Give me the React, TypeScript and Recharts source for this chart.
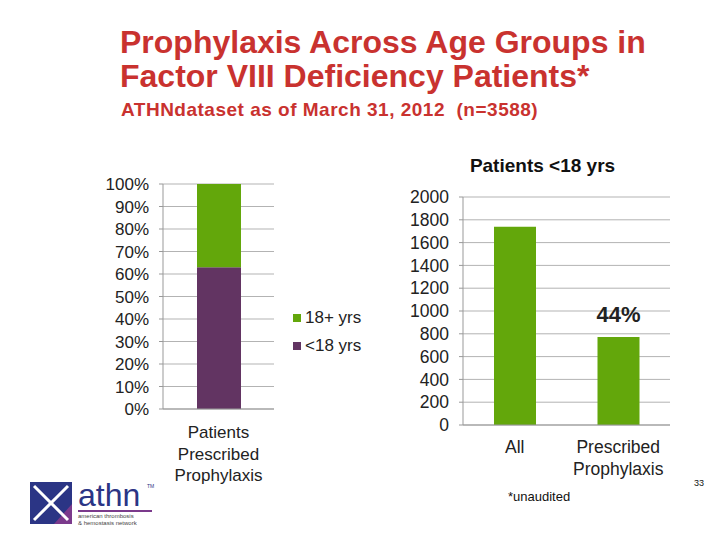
import { Bar, BarChart, CartesianGrid, LabelList, XAxis, YAxis } from "recharts";

const leftCategories = ["Patients\nPrescribed\nProphylaxis"];
const under18Share = [63];
const over18Share = [37];
const percentTicks = [0, 10, 20, 30, 40, 50, 60, 70, 80, 90, 100];

const rightCategories = ["All", "Prescribed\nProphylaxis"];
const under18Counts = [1740, 772];
const rightLabels = ["", "44%"];
const countTicks = [0, 200, 400, 600, 800, 1000, 1200, 1400, 1600, 1800, 2000];

const seriesNames = ["<18 yrs", "18+ yrs"];

const GREEN = "#63a70b";
const PURPLE = "#623462";
const GRID = "#b3b3b3";
const TITLE_RED = "#c9322f";
const FONT = "'Liberation Sans', Arial, sans-serif";

const leftData = leftCategories.map((c, i) => ({
  name: c,
  under: under18Share[i],
  over: over18Share[i],
}));

const rightData = rightCategories.map((c, i) => ({
  name: c,
  count: under18Counts[i],
  label: rightLabels[i],
}));

const MultiLineTick = (props: any) => {
  const { x, y, payload, firstDy, lineH, fontSize } = props;
  const lines = String(payload.value).split("\n");
  return (
    <text x={x} y={y} textAnchor="middle" fill="#222" fontSize={fontSize} fontFamily={FONT}>
      {lines.map((l: string, i: number) => (
        <tspan key={i} x={x} dy={i === 0 ? firstDy : lineH}>
          {l}
        </tspan>
      ))}
    </text>
  );
};

// rough athn logo, bottom left
const Logo = () => (
  <svg width={160} height={64} style={{ position: "absolute", left: 28, top: 470 }}>
    <rect x={2} y={12} width={42} height={42} fill="#2b3585" />
    <polygon points="44,54 26,54 44,34" fill="#7b3a8c" />
    <line x1={6} y1={16} x2={40} y2={50} stroke="#fff" strokeWidth={3} />
    <line x1={40} y1={16} x2={6} y2={50} stroke="#fff" strokeWidth={3} />
    <text x={50} y={36} fill="#2b3585" fontSize={32} fontFamily={FONT}>
      athn
    </text>
    <text x={119} y={18} fill="#2b3585" fontSize={5} fontFamily={FONT}>
      TM
    </text>
    <rect x={50} y={40} width={74} height={2} fill="#7b3a8c" />
    <text x={50} y={48} fill="#444" fontSize={6} fontFamily={FONT}>
      american thrombosis
    </text>
    <text x={50} y={55} fill="#444" fontSize={6} fontFamily={FONT}>
      &amp; hemostasis network
    </text>
  </svg>
);

export default function App() {
  const legendItems = [
    { name: seriesNames[1], color: GREEN },
    { name: seriesNames[0], color: PURPLE },
  ];
  return (
    <div
      style={{
        position: "relative",
        width: 720,
        height: 540,
        marginLeft: -8,
        marginTop: -8,
        background: "#fff",
        fontFamily: FONT,
        overflow: "hidden",
      }}
    >
      <div
        style={{
          position: "absolute",
          left: 120,
          top: 25,
          color: TITLE_RED,
          fontSize: 32,
          fontWeight: "bold",
          lineHeight: "34px",
          whiteSpace: "nowrap",
        }}
      >
        Prophylaxis Across Age Groups in
        <br />
        Factor VIII Deficiency Patients*
      </div>
      <div
        style={{
          position: "absolute",
          left: 121,
          top: 99,
          color: TITLE_RED,
          fontSize: 19,
          fontWeight: "bold",
          letterSpacing: 0.5,
          whiteSpace: "pre",
        }}
      >
        {"ATHNdataset as of March 31, 2012  (n=3588)"}
      </div>

      <div style={{ position: "absolute", left: 0, top: 170 }}>
        <BarChart
          width={380}
          height={320}
          data={leftData}
          margin={{ top: 14, right: 106, left: 0, bottom: 0 }}
        >
          <CartesianGrid vertical={false} stroke={GRID} />
          <XAxis
            dataKey="name"
            height={81}
            stroke="#999"
            tickLine={false}
            interval={0}
            tick={<MultiLineTick firstDy={21} lineH={21.5} fontSize={17} />}
          />
          <YAxis
            width={163}
            domain={[0, 100]}
            ticks={percentTicks}
            interval={0}
            tickFormatter={(v: number) => `${v}%`}
            stroke="#999"
            tickSize={4}
            tickMargin={10}
            tick={{ fill: "#222", fontSize: 17, fontFamily: FONT }}
          />
          <Bar dataKey="under" stackId="a" fill={PURPLE} barSize={44} isAnimationActive={false} />
          <Bar dataKey="over" stackId="a" fill={GREEN} barSize={44} isAnimationActive={false} />
        </BarChart>
      </div>

      <div style={{ position: "absolute", left: 293, top: 304 }}>
        {legendItems.map((it) => (
          <div
            key={it.name}
            style={{ display: "flex", alignItems: "center", height: 28, fontSize: 17, color: "#222" }}
          >
            <span
              style={{ width: 8, height: 8, background: it.color, marginRight: 4, display: "inline-block" }}
            />
            {it.name}
          </div>
        ))}
      </div>

      <div
        style={{
          position: "absolute",
          left: 390,
          top: 155,
          width: 305,
          textAlign: "center",
          fontSize: 19,
          fontWeight: "bold",
          color: "#111",
        }}
      >
        Patients &lt;18 yrs
      </div>

      <div style={{ position: "absolute", left: 390, top: 150 }}>
        <BarChart
          width={330}
          height={340}
          data={rightData}
          margin={{ top: 47, right: 50, left: 0, bottom: 0 }}
        >
          <CartesianGrid vertical={false} stroke={GRID} />
          <XAxis
            dataKey="name"
            height={65}
            stroke="#999"
            tickLine={false}
            interval={0}
            tick={<MultiLineTick firstDy={20} lineH={22} fontSize={17.5} />}
          />
          <YAxis
            width={73}
            domain={[0, 2000]}
            ticks={countTicks}
            interval={0}
            stroke="#999"
            tickSize={4}
            tickMargin={10}
            tick={{ fill: "#222", fontSize: 17.5, fontFamily: FONT }}
          />
          <Bar dataKey="count" fill={GREEN} barSize={42} isAnimationActive={false}>
            <LabelList
              dataKey="label"
              position="top"
              offset={15}
              fill="#222"
              fontSize={22}
              fontWeight="bold"
              fontFamily={FONT}
            />
          </Bar>
        </BarChart>
      </div>

      <div style={{ position: "absolute", left: 508, top: 489, fontSize: 13, color: "#111" }}>
        *unaudited
      </div>
      <div style={{ position: "absolute", left: 694, top: 478, fontSize: 9, color: "#111" }}>33</div>

      <Logo />
    </div>
  );
}
